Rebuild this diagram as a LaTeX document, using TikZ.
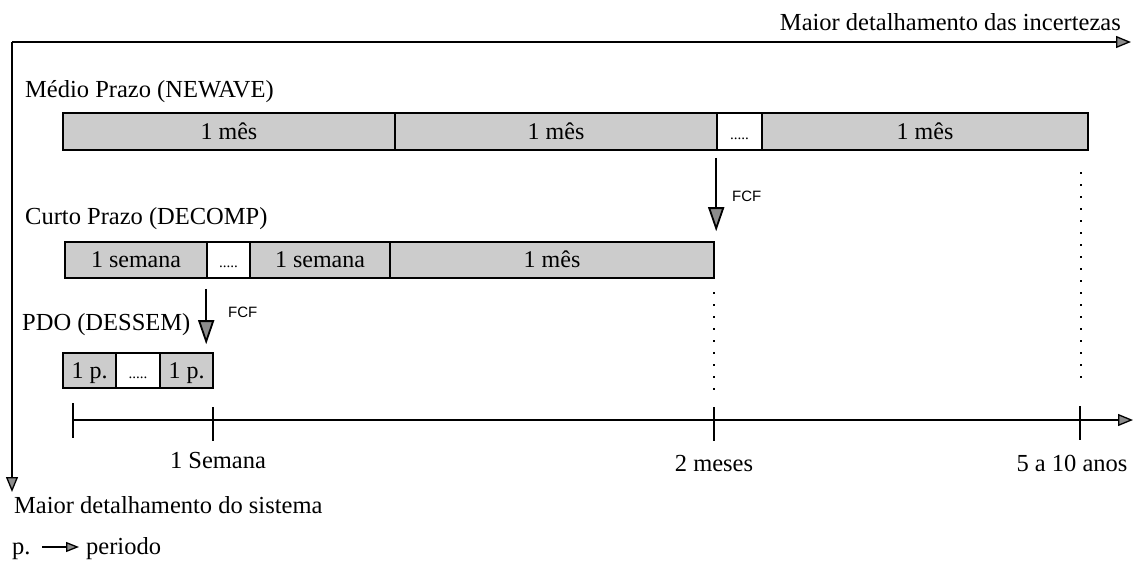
\documentclass[tikz,border=0pt]{standalone}
\usepackage{fontspec}
\setmainfont{Liberation Serif}
\newfontfamily\fcffont{Liberation Sans}
\usetikzlibrary{arrows.meta}
\tikzset{
  x=1pt, y=-1pt,
  tip/.style={-{Triangle[length=15pt,width=12pt,fill=black!45]}},
  seg/.style={draw=black, line width=1.6pt, fill=black!20, inner sep=0pt, anchor=center,
              font=\fontsize{24}{26}\selectfont, text height=16pt, text depth=1pt},
  dotseg/.style={seg, fill=white, font=\fontsize{15}{16}\selectfont},
  lbl/.style={inner sep=0pt, anchor=base west, font=\fontsize{24.5}{28}\selectfont},
  tlbl/.style={inner sep=0pt, anchor=base, font=\fontsize{24.5}{28}\selectfont},
  fcf/.style={inner sep=0pt, anchor=west, font=\fcffont\fontsize{15}{17}\selectfont},
  axis/.style={line width=1.3pt},
  fcfarrow/.style={line width=1.8pt, -{Triangle[length=24pt,width=16pt,fill=black!45]}},
  dotline/.style={line width=2pt, dash pattern=on 2pt off 10pt},
}
\begin{document}
\begin{tikzpicture}
\useasboundingbox (0,0) rectangle (1136,565);
% main axes
\coordinate (corner) at (12,42);
\coordinate (xend) at (1131,42);
\coordinate (yend) at (12,492);
\draw[axis, tip] (corner) -- (xend);
\draw[axis, tip] (corner) -- (yend);
\node[inner sep=0pt, anchor=base east, font=\fontsize{24.5}{28}\selectfont] (tx) at (1121,30) {Maior detalhamento das incertezas};
\node[lbl] (ty) at (14,513) {Maior detalhamento do sistema};
% legend
\node[lbl] (pp) at (12,554) {p.};
\node[lbl] (per) at (86,554) {periodo};
\coordinate (la) at (42,547);
\coordinate (lb) at (79,547);
\draw[line width=1.3pt, -{Triangle[length=13pt,width=10pt,fill=black!45]}] (la) -- (lb);
% NEWAVE
\node[lbl] (newave) at (25,97) {Médio Prazo (NEWAVE)};
\node[seg, minimum width=332pt, minimum height=37pt] (n1) at (229,131.5) {1 mês};
\node[seg, minimum width=322pt, minimum height=37pt] (n2) at (556,131.5) {1 mês};
\node[dotseg, minimum width=45pt, minimum height=37pt] (n3) at (739.5,131.5) {.....};
\node[seg, minimum width=326pt, minimum height=37pt] (n4) at (925,131.5) {1 mês};
% DECOMP
\node[lbl] (decomp) at (25,224) {Curto Prazo (DECOMP)};
\node[seg, minimum width=142pt, minimum height=36pt] (d1) at (136,260) {1 semana};
\node[dotseg, minimum width=43pt, minimum height=36pt] (d2) at (228.5,260) {.....};
\node[seg, minimum width=140pt, minimum height=36pt] (d3) at (320,260) {1 semana};
\node[seg, minimum width=324pt, minimum height=36pt] (d4) at (552,260) {1 mês};
% PDO
\node[lbl] (pdo) at (22,330) {PDO (DESSEM)};
\node[seg, minimum width=53pt, minimum height=35pt] (p1) at (89.5,370.5) {1 p.};
\node[dotseg, minimum width=44pt, minimum height=35pt] (p2) at (138,370.5) {.....};
\node[seg, minimum width=53pt, minimum height=35pt] (p3) at (186.5,370.5) {1 p.};
% FCF arrows
\draw[fcfarrow] ([yshift=-7pt]n3.south west) -- ([yshift=10pt]n3.south west |- d4.north) coordinate (f1);
\node[fcf] (fcf1) at (732,196) {FCF};
\draw[fcfarrow] ([yshift=-10pt]d2.south west) -- ([yshift=8pt]d2.south west |- p3.north) coordinate (f2);
\node[fcf] (fcf2) at (228,312) {FCF};
% time axis
\coordinate (t0) at (73,420);
\coordinate (t1) at (213,420);
\coordinate (t2) at (714,420);
\coordinate (t3) at (1080,420);
\coordinate (tend) at (1133,420);
\draw[axis, tip] (t0) -- (tend);
\draw[axis] ([yshift=17pt]t0) -- ([yshift=-18pt]t0);
\draw[axis] ([yshift=13pt]t1) -- ([yshift=-21pt]t1);
\draw[axis] ([yshift=13pt]t2) -- ([yshift=-21pt]t2);
\draw[axis] ([yshift=14pt]t3) -- ([yshift=-20pt]t3);
\node[tlbl] (l1) at (218,468) {1 Semana};
\node[tlbl] (l2) at (714,471) {2 meses};
\node[tlbl] (l3) at (1072,471) {5 a 10 anos};
% dotted guides
\draw[dotline] (1081,172) -- (1081,386);
\draw[dotline] (714,292) -- (714,392);
\end{tikzpicture}
\end{document}
